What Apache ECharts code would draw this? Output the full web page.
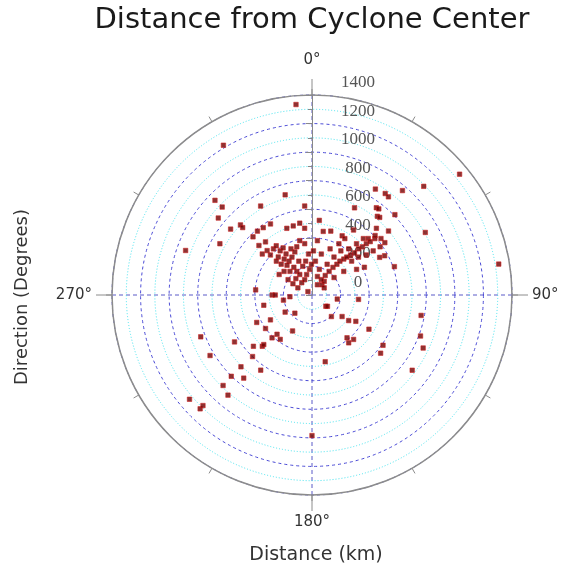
<!DOCTYPE html>
<html>
<head>
<meta charset="utf-8">
<script src="https://cdn.jsdelivr.net/npm/echarts@6/dist/echarts.min.js"></script>
<style>html,body{margin:0;padding:0;background:#fff}#c{width:570px;height:572px}</style>
</head>
<body>
<div id="c"></div>
<script>
// Distance from cyclone center (km) and direction (degrees, clockwise from north)
const distanceKm = [
  949,880,849,733,701,677,580,588,582,576,719,726,625,525,499,501,510,738,938,494,
  508,451,442,396,279,257,345,203,155,175,223,37,125,432,339,401,368,382,410,286,
  634,545,500,484,832,830,599,707,753,637,802,888,915,1126,1117,1087,476,1335,1091,967,
  876,871,864,759,763,716,721,808,679,649,698,906,466,465,540,591,558,610,578,542,
  1325,100,128,327,179,134,203,259,313,358,465,387,426,422,777,812,862,609,630,877,
  1338,1218,984,
  421,426,381,387,340,356,318,286,300,272,232,196,226,167,161,112,305,344,404,355,
  325,254,211,119,111,199,256,271,155,241,288,363,390,354,180,148,
  81,126,165,204,243,277,307,336,360,389,419,459,488,523,553,307,369,413,475,534,
  240,187,238,294,347,405,457,365,420,472,528,584,628,607,624,415,360,277,197,99,
  135,215,309,470,382,452
];
const directionDeg = [
  314.3,314.4,309.4,309,314.4,314.2,314.6,319.5,324.1,329.7,330,345,355.3,5.6,339.3,344.8,350.3,299.1,289.4,318.8,
  313,309.5,314.7,275.2,270,270,258,259.8,265.5,223.3,237.5,309.5,129.1,243.6,239.1,234.2,221.7,215.6,223,208.4,
  238.8,228.8,224.1,224.2,249.4,239.3,224,224.7,219.4,214.3,224.8,224.5,220,229.6,224.5,224.6,168.8,50.7,45.8,40.9,
  35.8,37.9,30.9,36.4,37.8,39.7,41.1,45.9,26,44,50.1,61.1,16.4,27,32.6,48.1,44.9,71,61.6,60.9,
  80.6,44.2,41.9,95.4,99.2,126.1,138,125.6,124.9,121,121,140.7,136.9,142.5,100.6,110.7,115.5,125.3,130.3,126.9,
  355.2,329.4,180,
  320.1,324,324.2,328.5,327.7,318.4,322.2,325.8,332.1,320,326.8,327.2,317,329.2,315.5,320.2,315,313.5,313.9,335.5,
  338.3,338.7,342.1,334.5,296.9,302.7,310.2,302,300.6,349.4,355.2,351.9,347.3,342.5,354.6,345.3,
  27.7,31.1,34.1,36,37.2,39,39.5,41.5,42.5,44,45.3,45.2,46.3,46.6,47.5,30.1,33.2,38.5,41,42.3,
  26.2,16,5.8,12.8,21.4,27.7,30.2,49.5,50.8,53.6,54.2,54.7,54.3,46.7,50.7,62.1,60.1,53.4,51.6,59.6,
  16.3,359,1.9,353.7,5.7,10
];
const radiusTicks = [0, 1400, 200];      // min, max, step
const angleLabels = {0: '0°', 90: '90°', 180: '180°', 270: '270°'};
const titleText = 'Distance from Cyclone Center';
const xName = 'Distance (km)';
const yName = 'Direction (Degrees)';

const points = distanceKm.map((r, i) => [r, directionDeg[i]]);
const chart = echarts.init(document.getElementById('c'));
const sans = 'DejaVu Sans';
const C = [312, 295], R = 200;
chart.setOption({
  animation: false,
  backgroundColor: '#fff',
  title: [
    {text: titleText, left: 312, top: 6, textAlign: 'center', padding: 0,
     textStyle: {fontFamily: sans, fontSize: 29, fontWeight: 'normal', color: '#1a1a1a'}},
    {text: xName, left: 316, top: 546, textAlign: 'center', padding: 0,
     textStyle: {fontFamily: sans, fontSize: 19, fontWeight: 'normal', color: '#333'}}
  ],
  graphic: [{
    type: 'text', x: 22, y: 297, rotation: Math.PI / 2,
    style: {text: yName, font: '18px "DejaVu Sans"', fill: '#333', align: 'center', verticalAlign: 'middle'}
  }],
  polar: [{center: C, radius: R}, {center: C, radius: R}],
  radiusAxis: [{
    polarIndex: 0, type: 'value', min: radiusTicks[0], max: radiusTicks[1], interval: radiusTicks[2], z: 5,
    axisLine: {show: true, lineStyle: {color: '#888', width: 1}},
    axisTick: {show: true, length: 6, lineStyle: {color: '#888'}},
    minorTick: {show: true, splitNumber: 2, length: 4, lineStyle: {color: '#888'}},
    axisLabel: {margin: -46, align: 'center', verticalAlign: 'bottom', padding: [0, 0, 4, 0],
      formatter: v => String(v),
      fontFamily: 'Liberation Serif', fontSize: 17, color: '#555'},
    splitLine: {show: true, lineStyle: {color: '#4a4ad6', type: [3, 3], width: 1}},
    minorSplitLine: {show: true, lineStyle: {color: '#44e4f0', type: [1, 2], width: 1}}
  }, {
    polarIndex: 1, type: 'value', min: radiusTicks[0], max: radiusTicks[1], show: false
  }],
  angleAxis: [{
    polarIndex: 0, type: 'value', min: 0, max: 360, interval: 30, startAngle: 90, clockwise: true, z: 6,
    axisLine: {show: true, lineStyle: {color: '#8c8c8c', width: 1.5}},
    axisTick: {show: true, length: 6, lineStyle: {color: '#8c8c8c'}},
    axisLabel: {show: false}, splitLine: {show: false}
  }, {
    polarIndex: 1, type: 'value', min: 0, max: 360, interval: 90, startAngle: 90, clockwise: true, z: 3,
    axisLine: {show: false},
    axisTick: {show: true, length: 16, lineStyle: {color: '#8c8c8c'}},
    axisLabel: {show: true, margin: 20, fontFamily: sans, fontSize: 15, color: '#333',
      formatter: v => v === 0 ? '{t|' + angleLabels[0] + '}' : (angleLabels[v] || ''),
      rich: {t: {fontFamily: sans, fontSize: 15, color: '#333', padding: [0, 0, 7, 0]}}},
    splitLine: {show: true, lineStyle: {color: '#5a5ac8', type: [4, 3], width: 1}}
  }],
  series: [{
    type: 'scatter', coordinateSystem: 'polar', polarIndex: 0, z: 10,
    symbol: 'rect', symbolSize: 4.5,
    itemStyle: {color: '#700000', borderColor: '#cc2020', borderWidth: 0.7},
    data: points
  }]
});
</script>
</body>
</html>
